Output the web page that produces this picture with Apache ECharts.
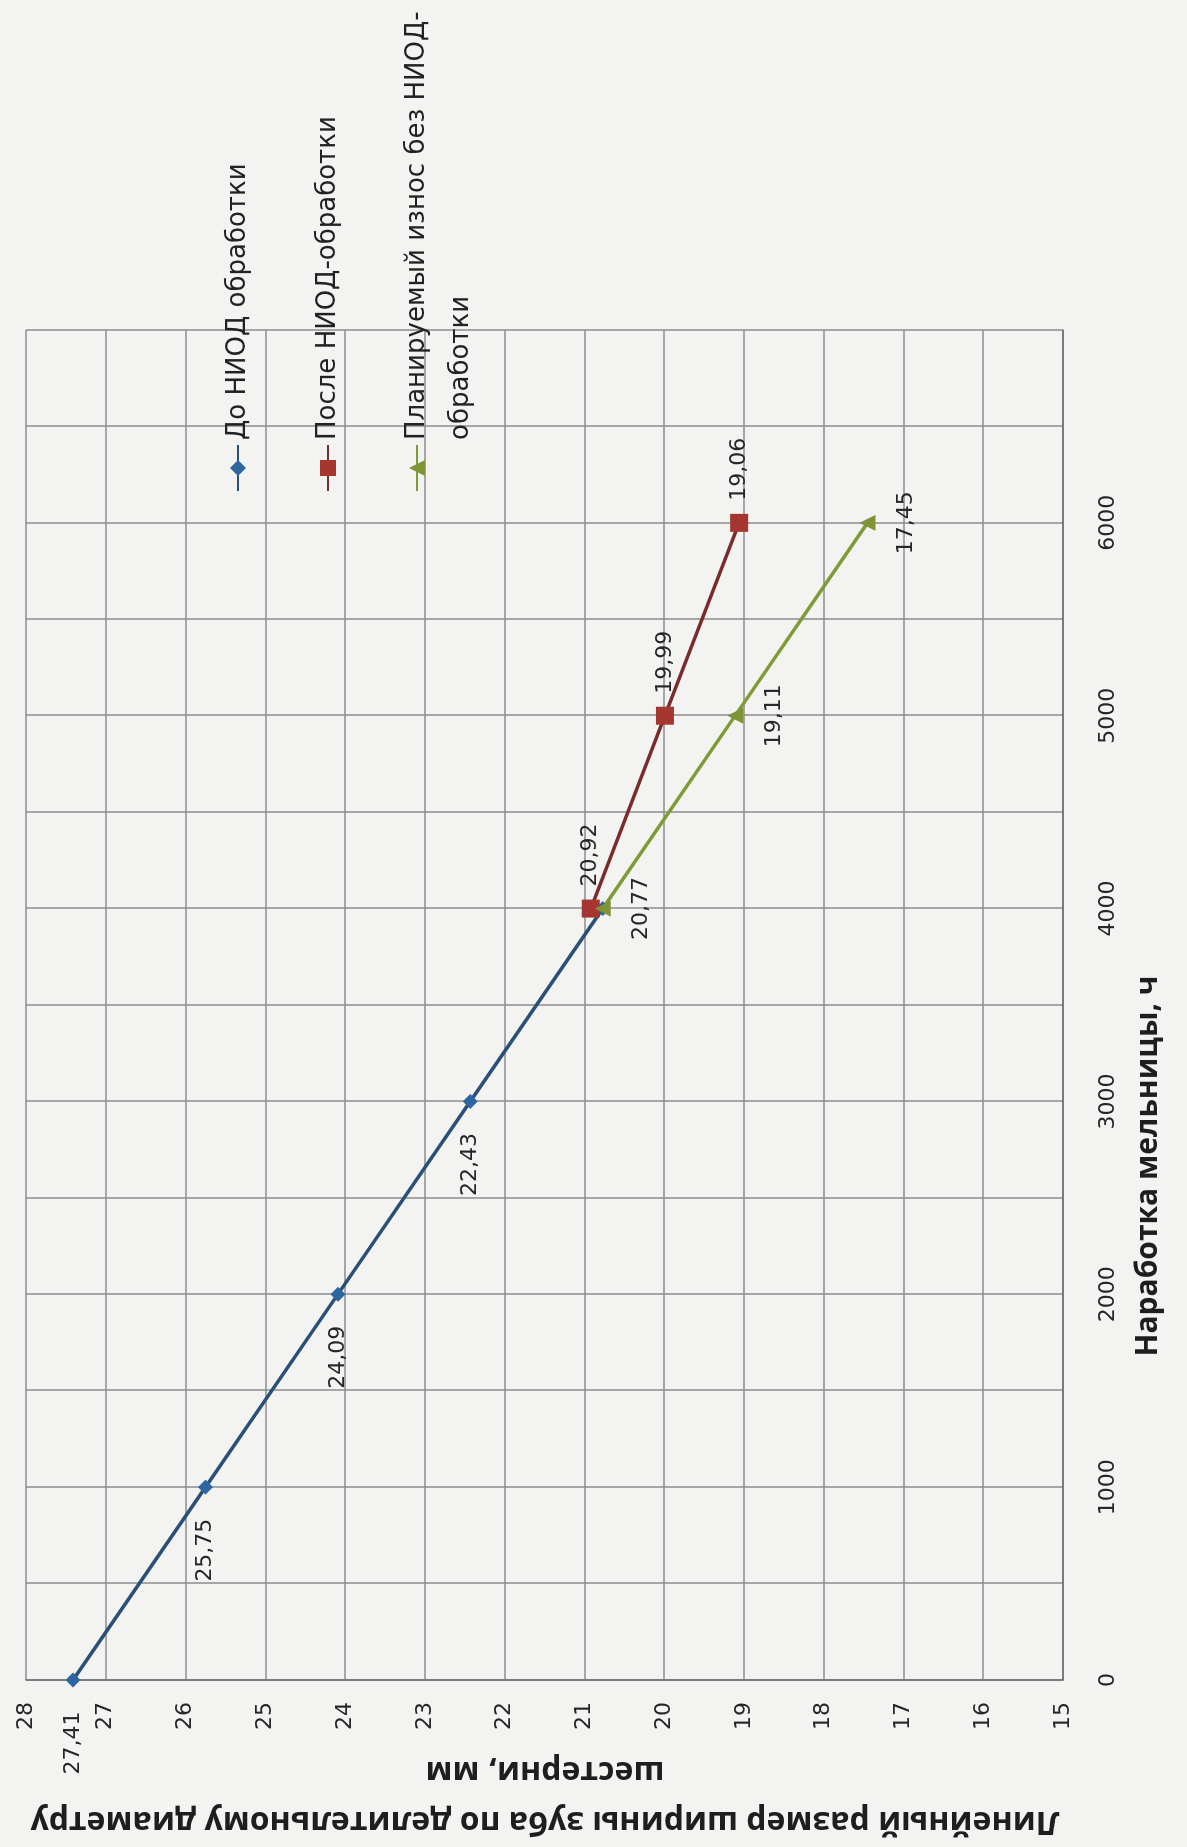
<!DOCTYPE html>
<html>
<head>
<meta charset="utf-8">
<script src="https://cdn.jsdelivr.net/npm/echarts@6/dist/echarts.min.js"></script>
<style>
    html, body { margin: 0; padding: 0; width: 1187px; height: 1847px; overflow: hidden; background: #f3f3f1; }
    /* the scanned chart lies on its side: draw it upright, then turn it */
    #chart { position: absolute; left: 0; top: 0; width: 1847px; height: 1187px;
             transform-origin: 0 0; transform: translate(0, 1847px) rotate(-90deg); }
</style>
</head>
<body>
<div id="chart"></div>
<script>
    // наработка, ч
    var hours = [0, 1000, 2000, 3000, 4000, 5000, 6000];
    // до НИОД обработки (0..4000 ч)
    var beforeVals = [27.41, 25.75, 24.09, 22.43, 20.77];
    // после НИОД-обработки и планируемый износ (4000..6000 ч)
    var afterHours = [4000, 5000, 6000];
    var afterVals = [20.92, 19.99, 19.06];
    var plannedVals = [20.77, 19.11, 17.45];
    var seriesNames = ['До НИОД обработки', 'После НИОД-обработки', 'Планируемый износ без НИОД-обработки'];
    var yTitle = 'Линейный размер ширины зуба по делительному диаметру\nшестерни, мм';
    var xTitle = 'Наработка мельницы, ч';

    var titleFont = '"Open Sans", "Liberation Sans", sans-serif';
    var font = '"DejaVu Sans", sans-serif';
    var chart = echarts.init(document.getElementById('chart'));

    function comma(p) {
        return p.value[1].toFixed(2).replace('.', ',');
    }

    var beforeData = beforeVals.map(function (v, i) {
        var item = {value: [hours[i], v]};
        // последняя точка совпадает с началом зелёной линии, подпись не выводится
        if (i === beforeVals.length - 1) item.label = {show: false};
        return item;
    });
    var afterData = afterVals.map(function (v, i) { return [afterHours[i], v]; });
    var plannedData = plannedVals.map(function (v, i) { return [afterHours[i], v]; });

    var labelStyle = {show: true, color: '#262626', fontSize: 22, fontFamily: font, formatter: comma};
    var legendText = {fontSize: 26, fontFamily: font, color: '#222', lineHeight: 44};

    var option = {
        animation: false,
        backgroundColor: 'transparent',
        grid: {left: 167, right: 330, top: 26, bottom: 124},
        legend: [
            {
                orient: 'vertical',
                left: 1350,
                top: 211,
                itemWidth: 46,
                itemHeight: 20,
                itemGap: 46,
                textStyle: legendText,
                data: [seriesNames[0], seriesNames[1]]
            },
            {
                // две строки, значок на уровне первой (пустая строка сверху уравновешивает вторую)
                orient: 'vertical',
                left: 1350,
                top: 346,
                itemWidth: 46,
                itemHeight: 20,
                textStyle: legendText,
                formatter: function () { return ' \nПланируемый износ без НИОД-\nобработки'; },
                data: [seriesNames[2]]
            }
        ],
        xAxis: {
            type: 'value',
            min: 0,
            max: 7000,
            interval: 500,
            axisLine: {lineStyle: {color: '#6e6e6e', width: 1.5}},
            axisTick: {show: false},
            axisLabel: {
                margin: 34,
                fontSize: 22,
                fontFamily: font,
                color: '#262626',
                formatter: function (v) { return (v % 1000 === 0 && v < 7000) ? String(v) : ''; }
            },
            splitLine: {show: true, lineStyle: {color: '#8c8c8c', width: 1.5}}
        },
        yAxis: {
            type: 'value',
            min: 15,
            max: 28,
            interval: 1,
            axisLine: {show: true, lineStyle: {color: '#6e6e6e', width: 1.5}},
            axisTick: {show: false},
            axisLabel: {margin: 22, fontSize: 22, fontFamily: font, color: '#262626'},
            splitLine: {show: true, lineStyle: {color: '#8c8c8c', width: 1.5}}
        },
        graphic: [
            {
                type: 'text',
                x: 51, y: 545,
                rotation: Math.PI / 2,
                style: {
                    text: yTitle, fill: '#1e1e1e', font: 'bold 32px ' + titleFont,
                    lineHeight: 50, textAlign: 'center', textVerticalAlign: 'middle'
                }
            },
            {
                type: 'text',
                x: 681, y: 1148,
                style: {
                    text: xTitle, fill: '#1e1e1e', font: 'bold 30px ' + titleFont,
                    textAlign: 'center', textVerticalAlign: 'middle'
                }
            }
        ],
        series: [
            {
                name: seriesNames[0],
                type: 'line',
                data: beforeData,
                symbol: 'diamond',
                symbolSize: 15,
                lineStyle: {color: '#2b5078', width: 3.5},
                itemStyle: {color: '#2e66a0'},
                label: Object.assign({position: 'left', distance: 24}, labelStyle)
            },
            {
                name: seriesNames[1],
                type: 'line',
                data: afterData,
                symbol: 'rect',
                symbolSize: 18,
                lineStyle: {color: '#7a2b2c', width: 3.5},
                itemStyle: {color: '#a5362f'},
                label: Object.assign({position: 'right', distance: 13}, labelStyle)
            },
            {
                name: seriesNames[2],
                type: 'line',
                data: plannedData,
                symbol: 'triangle',
                symbolSize: 16,
                lineStyle: {color: '#7f9b38', width: 3.5},
                itemStyle: {color: '#7e9436'},
                label: Object.assign({position: 'bottom', distance: 20}, labelStyle)
            }
        ]
    };

    chart.setOption(option);
</script>
</body>
</html>
